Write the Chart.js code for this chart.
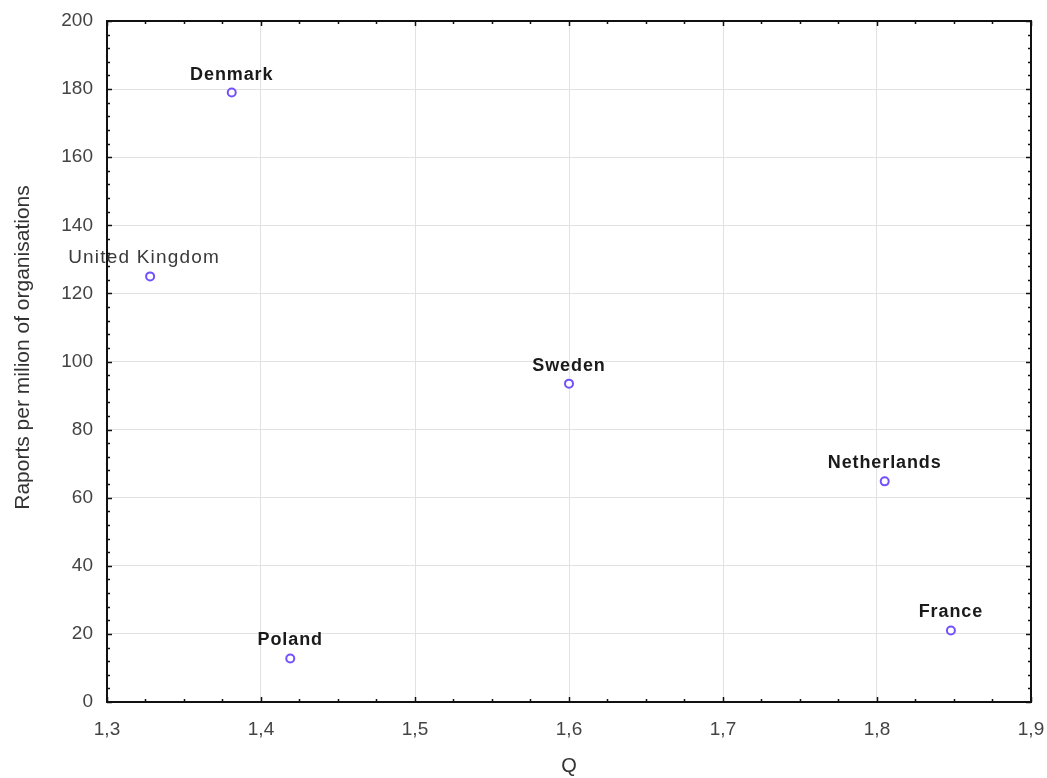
<!DOCTYPE html>
<html>
<head>
<meta charset="utf-8">
<script src="https://cdn.jsdelivr.net/npm/chart.js@4.4.1/dist/chart.umd.min.js"></script>
<style>
  html, body { margin: 0; padding: 0; background: #fff; }
  #wrap { width: 1047px; height: 778px; }
</style>
</head>
<body>
<div id="wrap"><canvas id="chart"></canvas></div>
<script>
const countries = ['Denmark', 'United Kingdom', 'Sweden', 'Netherlands', 'France', 'Poland'];
const qValues = [1.381, 1.328, 1.600, 1.805, 1.848, 1.419];
const reports = [179, 125, 93.5, 64.8, 21, 12.8];
const labelBold = [true, false, true, true, true, true];
const yTitle = 'Raports per milion of organisations';

const points = countries.map((c, i) => ({ x: qValues[i], y: reports[i] }));
const FONT = '"Liberation Sans", Arial, sans-serif';

// frame + inward minor/major ticks on all four sides
const framePlugin = {
  id: 'frame',
  afterDatasetsDraw(chart) {
    const ctx = chart.ctx;
    const a = chart.chartArea;
    const xs = chart.scales.x, ys = chart.scales.y;
    ctx.save();
    ctx.strokeStyle = '#111';
    ctx.lineWidth = 1.5;
    for (let v = 1.3; v <= 1.9001; v += 0.025) {
      const px = Math.round(xs.getPixelForValue(v)) + 0.5;
      const major = Math.abs(v * 10 - Math.round(v * 10)) < 0.001;
      const len = major ? 5 : 3;
      ctx.beginPath();
      ctx.moveTo(px, a.bottom); ctx.lineTo(px, a.bottom - len);
      ctx.moveTo(px, a.top); ctx.lineTo(px, a.top + len);
      ctx.stroke();
    }
    for (let v = 0; v <= 200; v += 4) {
      const py = Math.round(ys.getPixelForValue(v)) + 0.5;
      const len = v % 20 === 0 ? 5 : 3;
      ctx.beginPath();
      ctx.moveTo(a.left, py); ctx.lineTo(a.left + len, py);
      ctx.moveTo(a.right, py); ctx.lineTo(a.right - len, py);
      ctx.stroke();
    }
    ctx.lineWidth = 2;
    ctx.strokeRect(a.left, a.top, a.right - a.left, a.bottom - a.top);

    // y axis title, sitting a little above the middle like the original
    ctx.font = '21px ' + FONT;
    ctx.fillStyle = '#333';
    ctx.textAlign = 'center';
    ctx.textBaseline = 'middle';
    ctx.translate(23, (a.top + a.bottom) / 2 - 14);
    ctx.rotate(-Math.PI / 2);
    ctx.fillText(yTitle, 0, 0);
    ctx.restore();
  }
};

// country names above each point
const namePlugin = {
  id: 'names',
  afterDatasetsDraw(chart) {
    const ctx = chart.ctx;
    const meta = chart.getDatasetMeta(0);
    ctx.save();
    ctx.textAlign = 'center';
    ctx.textBaseline = 'alphabetic';
    meta.data.forEach((pt, i) => {
      if (labelBold[i]) {
        ctx.font = 'bold 18px ' + FONT;
        ctx.fillStyle = '#1a1a1a';
        ctx.letterSpacing = '0.9px';
      } else {
        ctx.font = '19px ' + FONT;
        ctx.fillStyle = '#3a3a3a';
        ctx.letterSpacing = '1.2px';
      }
      const dx = i === 1 ? -6 : 0;
      ctx.fillText(countries[i], pt.x + dx, pt.y - 13);
    });
    ctx.restore();
  }
};

new Chart(document.getElementById('chart'), {
  type: 'scatter',
  data: {
    datasets: [{
      data: points,
      pointRadius: 4,
      pointHoverRadius: 4,
      pointBorderWidth: 2,
      pointBackgroundColor: '#fff',
      pointBorderColor: 'rgb(115, 80, 255)'
    }]
  },
  options: {
    responsive: true,
    maintainAspectRatio: false,
    animation: false,
    layout: { padding: { top: 21, right: 0, left: 0, bottom: 0 } },
    plugins: { legend: { display: false }, tooltip: { enabled: false } },
    scales: {
      x: {
        type: 'linear',
        min: 1.3, max: 1.9,
        afterFit(scale) { scale.height = 76; scale.paddingRight = 16; },
        ticks: {
          stepSize: 0.1,
          color: '#444',
          padding: 16,
          font: { size: 19, family: FONT },
          callback: v => v.toFixed(1).replace('.', ',')
        },
        grid: { color: '#e2e2e2', lineWidth: 1, drawTicks: false },
        border: { display: false },
        title: {
          display: true, text: 'Q', color: '#333',
          font: { size: 20, family: FONT },
          padding: { top: 11, bottom: 0 }
        }
      },
      y: {
        min: 0, max: 200,
        afterFit(scale) { scale.width = 107; scale.paddingTop = 0; scale.paddingBottom = 0; },
        ticks: {
          stepSize: 20,
          color: '#444',
          padding: 14,
          font: { size: 19, family: FONT }
        },
        grid: { color: '#e2e2e2', lineWidth: 1, drawTicks: false },
        border: { display: false }
      }
    }
  },
  plugins: [framePlugin, namePlugin]
});
</script>
</body>
</html>
